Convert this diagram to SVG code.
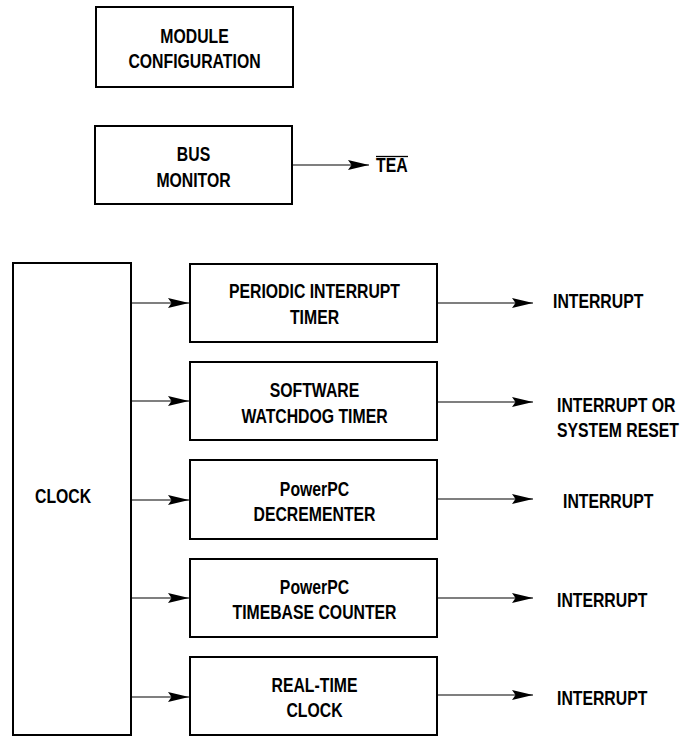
<svg xmlns="http://www.w3.org/2000/svg" width="683" height="736" viewBox="0 0 683 736">
<style>
.box{fill:#fff;stroke:#000;stroke-width:2}
.t{font-family:"Liberation Sans",Arial,sans-serif;font-weight:bold;font-size:19.5px;fill:#000}
.c{text-anchor:middle}
.ln{stroke:#000;stroke-width:1.2;fill:none}
</style>
<defs>
<marker id="ah" markerUnits="userSpaceOnUse" markerWidth="24" markerHeight="12" viewBox="-22 -6 24 12" refX="0" refY="0" orient="auto">
<path d="M0,0 L-21,-5 L-17.5,0 L-21,5 Z" fill="#000"/>
</marker>
</defs>
<rect width="683" height="736" fill="#fff"/>
<g id="module-config">
<rect class="box" x="96" y="7" width="197" height="80"/>
<text class="t c" transform="translate(194.5,43) scale(0.81,1)">MODULE</text>
<text class="t c" transform="translate(194.5,68) scale(0.81,1)">CONFIGURATION</text>
</g>
<g id="bus-monitor">
<rect class="box" x="95" y="126" width="197" height="78"/>
<text class="t c" transform="translate(193.5,161) scale(0.81,1)">BUS</text>
<text class="t c" transform="translate(193.5,187) scale(0.81,1)">MONITOR</text>
</g>
<g id="tea">
<text class="t" transform="translate(376,172) scale(0.81,1)">TEA</text>
<line x1="376" y1="156.5" x2="408" y2="156.5" stroke="#000" stroke-width="1.3"/>
</g>
<g id="clock">
<rect class="box" x="13" y="263" width="118" height="472"/>
<text class="t" transform="translate(35,503) scale(0.81,1)">CLOCK</text>
</g>
<g id="pit">
<rect class="box" x="190" y="264" width="247" height="78"/>
<text class="t c" transform="translate(314.5,298) scale(0.81,1)">PERIODIC INTERRUPT</text>
<text class="t c" transform="translate(314.5,324) scale(0.81,1)">TIMER</text>
</g>
<g id="swt">
<rect class="box" x="190" y="362" width="247" height="78"/>
<text class="t c" transform="translate(314.5,397) scale(0.81,1)">SOFTWARE</text>
<text class="t c" transform="translate(314.5,423) scale(0.81,1)">WATCHDOG TIMER</text>
</g>
<g id="dec">
<rect class="box" x="190" y="460" width="247" height="79"/>
<text class="t c" transform="translate(314.5,496) scale(0.81,1)">PowerPC</text>
<text class="t c" transform="translate(314.5,521) scale(0.81,1)">DECREMENTER</text>
</g>
<g id="tb">
<rect class="box" x="190" y="559" width="247" height="78"/>
<text class="t c" transform="translate(314.5,594) scale(0.81,1)">PowerPC</text>
<text class="t c" transform="translate(314.5,619) scale(0.81,1)">TIMEBASE COUNTER</text>
</g>
<g id="rtc">
<rect class="box" x="190" y="657" width="247" height="78"/>
<text class="t c" transform="translate(314.5,692) scale(0.81,1)">REAL-TIME</text>
<text class="t c" transform="translate(314.5,717) scale(0.81,1)">CLOCK</text>
</g>
<g id="outputs">
<text class="t" transform="translate(553,308) scale(0.81,1)">INTERRUPT</text>
<text class="t" transform="translate(557,412) scale(0.81,1)">INTERRUPT OR</text>
<text class="t" transform="translate(557,437) scale(0.81,1)">SYSTEM RESET</text>
<text class="t" transform="translate(563,508) scale(0.81,1)">INTERRUPT</text>
<text class="t" transform="translate(557,607) scale(0.81,1)">INTERRUPT</text>
<text class="t" transform="translate(557,705) scale(0.81,1)">INTERRUPT</text>
</g>
<g id="connectors">
<line class="ln" x1="292" y1="165" x2="369" y2="165" marker-end="url(#ah)"/>
<line class="ln" x1="131" y1="303" x2="189" y2="303" marker-end="url(#ah)"/>
<line class="ln" x1="131" y1="401" x2="189" y2="401" marker-end="url(#ah)"/>
<line class="ln" x1="131" y1="500" x2="189" y2="500" marker-end="url(#ah)"/>
<line class="ln" x1="131" y1="598" x2="189" y2="598" marker-end="url(#ah)"/>
<line class="ln" x1="131" y1="697" x2="189" y2="697" marker-end="url(#ah)"/>
<line class="ln" x1="437" y1="303" x2="533" y2="303" marker-end="url(#ah)"/>
<line class="ln" x1="437" y1="402" x2="533" y2="402" marker-end="url(#ah)"/>
<line class="ln" x1="437" y1="499" x2="533" y2="499" marker-end="url(#ah)"/>
<line class="ln" x1="437" y1="598" x2="533" y2="598" marker-end="url(#ah)"/>
<line class="ln" x1="437" y1="695" x2="533" y2="695" marker-end="url(#ah)"/>
</g>
</svg>
